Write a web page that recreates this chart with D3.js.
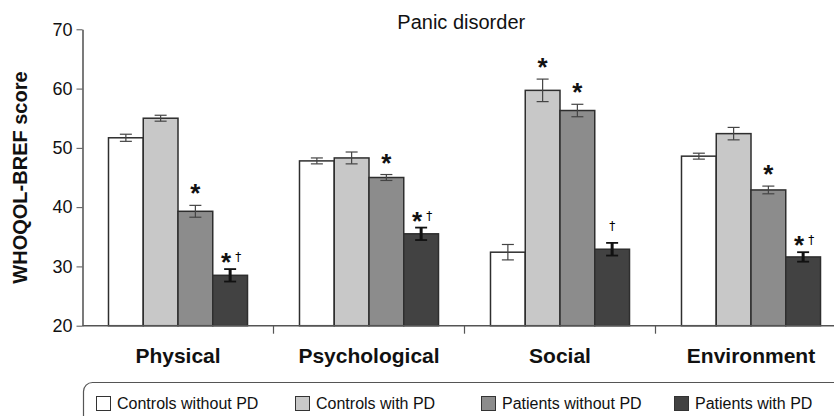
<!DOCTYPE html>
<html>
<head>
<meta charset="utf-8">
<script src="https://cdn.jsdelivr.net/npm/d3@7"></script>
<style>
  html, body { margin: 0; padding: 0; background: #fff; }
  svg { display: block; font-family: "Liberation Sans", Arial, Helvetica, sans-serif; }
</style>
</head>
<body>
<svg id="chart" width="834" height="416"></svg>
<script>
// ---- Data ----
const categories = ["Physical", "Psychological", "Social", "Environment"];
const series = ["Controls without PD", "Controls with PD", "Patients without PD", "Patients with PD"];
const seriesColors = ["#ffffff", "#c8c8c8", "#8c8c8c", "#424242"];
// means per series across categories
const controlsWithoutPD = [51.7, 47.8, 32.4, 48.6];
const controlsWithPD    = [55.0, 48.3, 59.7, 52.4];
const patientsWithoutPD = [39.3, 45.0, 56.3, 42.9];
const patientsWithPD    = [28.5, 35.5, 32.9, 31.6];
// standard errors
const errControlsWithoutPD = [0.6, 0.5, 1.3, 0.5];
const errControlsWithPD    = [0.5, 1.0, 1.9, 1.05];
const errPatientsWithoutPD = [1.0, 0.5, 1.05, 0.65];
const errPatientsWithPD    = [1.05, 1.05, 1.07, 0.8];
// significance annotations
const markControlsWithoutPD = ["", "", "", ""];
const markControlsWithPD    = ["", "", "*", ""];
const markPatientsWithoutPD = ["*", "*", "*", "*"];
const markPatientsWithPD    = ["*†", "*†", "†", "*†"];
const yTicks = [20, 30, 40, 50, 60, 70];
const title = "Panic disorder";
const yLabel = "WHOQOL-BREF score";

const values = [controlsWithoutPD, controlsWithPD, patientsWithoutPD, patientsWithPD];
const errors = [errControlsWithoutPD, errControlsWithPD, errPatientsWithoutPD, errPatientsWithPD];
const marks = [markControlsWithoutPD, markControlsWithPD, markPatientsWithoutPD, markPatientsWithPD];

const data = [];
categories.forEach((c, ci) => {
  series.forEach((s, si) => {
    data.push({cat: c, ser: s, si, v: values[si][ci], e: errors[si][ci], m: marks[si][ci]});
  });
});

// ---- Layout ----
const svg = d3.select("#chart");
const plotLeft = 82.5, plotRight = 834, plotTop = 29.3, plotBottom = 325.7;

const x0 = d3.scaleBand().domain(categories).range([plotLeft, plotLeft + 4 * 191]).paddingInner(0).paddingOuter(0);
const x1 = d3.scaleBand().domain(series).range([0, x0.bandwidth()]).paddingInner(0).paddingOuter(0.748);
const y = d3.scaleLinear().domain([20, 70]).range([plotBottom, plotTop]);

// Title
svg.append("text")
  .attr("x", (plotLeft + plotRight) / 2 + 3)
  .attr("y", 29)
  .attr("text-anchor", "middle")
  .attr("font-size", 20)
  .attr("fill", "#111")
  .text(title);

// Y axis
const yAxis = svg.append("g")
  .attr("transform", `translate(${plotLeft},0)`)
  .call(d3.axisLeft(y).tickValues(yTicks).tickSize(6).tickPadding(4).tickSizeOuter(0));
yAxis.select(".domain").attr("stroke", "#333").attr("stroke-width", 1.3);
yAxis.selectAll(".tick line").attr("stroke", "#555").attr("stroke-width", 1);
yAxis.selectAll(".tick text").attr("font-size", 18).attr("fill", "#111")
  .attr("font-family", "Liberation Sans, Arial, sans-serif");

// Y label
svg.append("text")
  .attr("transform", `translate(27,${(plotTop + plotBottom) / 2}) rotate(-90)`)
  .attr("text-anchor", "middle")
  .attr("font-size", 20)
  .attr("font-weight", "bold")
  .attr("fill", "#111")
  .text(yLabel);

// Bars
const groups = svg.append("g").selectAll("g")
  .data(data).join("g")
  .attr("transform", d => `translate(${x0(d.cat)},0)`);

groups.append("rect")
  .attr("x", d => x1(d.ser))
  .attr("y", d => y(d.v))
  .attr("width", x1.bandwidth())
  .attr("height", d => y(20) - y(d.v))
  .attr("fill", d => seriesColors[d.si])
  .attr("stroke", "#2e2e2e")
  .attr("stroke-width", 1.5);

// Error bars
const eb = groups.append("g")
  .attr("stroke", d => d.si === 3 ? "#111" : "#444");
eb.append("line")
  .attr("x1", d => x1(d.ser) + x1.bandwidth() / 2)
  .attr("x2", d => x1(d.ser) + x1.bandwidth() / 2)
  .attr("y1", d => y(d.v + d.e))
  .attr("y2", d => y(d.v - d.e))
  .attr("stroke-width", d => d.si === 3 ? 3 : 1.2);
[1, -1].forEach(sign => {
  eb.append("line")
    .attr("x1", d => x1(d.ser) + x1.bandwidth() / 2 - 6)
    .attr("x2", d => x1(d.ser) + x1.bandwidth() / 2 + 6)
    .attr("y1", d => y(d.v + sign * d.e))
    .attr("y2", d => y(d.v + sign * d.e))
    .attr("stroke-width", d => d.si === 3 ? 1.8 : 1.2);
});

// Annotations
const ann = groups.filter(d => d.m !== "");
ann.each(function(d) {
  const g = d3.select(this);
  const cx = x1(d.ser) + x1.bandwidth() / 2;
  const top = y(d.v + d.e);
  const hasStar = d.m.includes("*");
  const hasDag = d.m.includes("†");
  const cy = top - (hasStar && hasDag ? 12 : 17);
  if (hasStar) {
    g.append("text")
      .attr("x", hasDag ? cx - 4 : cx)
      .attr("y", cy + 14)
      .attr("text-anchor", "middle")
      .attr("font-size", 26)
      .attr("font-weight", "bold")
      .attr("fill", "#111")
      .text("*");
  }
  if (hasDag) {
    g.append("text")
      .attr("x", hasStar ? cx + 8 : cx)
      .attr("y", cy + 4)
      .attr("text-anchor", "middle")
      .attr("font-size", 12)
      .attr("font-family", "DejaVu Sans, sans-serif")
      .attr("fill", "#000")
      .text("†");
  }
});

// X axis line and separators
svg.append("line")
  .attr("x1", plotLeft).attr("x2", plotRight)
  .attr("y1", plotBottom).attr("y2", plotBottom)
  .attr("stroke", "#555").attr("stroke-width", 1.5);
svg.append("g").selectAll("line")
  .data(categories.slice(1)).join("line")
  .attr("x1", d => x0(d)).attr("x2", d => x0(d))
  .attr("y1", plotBottom).attr("y2", plotBottom + 8)
  .attr("stroke", "#555").attr("stroke-width", 1.2);

// Category labels
svg.append("g").selectAll("text")
  .data(categories).join("text")
  .attr("x", d => x0(d) + x0.bandwidth() / 2)
  .attr("y", 363)
  .attr("text-anchor", "middle")
  .attr("font-size", 21)
  .attr("font-weight", "bold")
  .attr("fill", "#111")
  .text(d => d);

// Legend
svg.append("rect")
  .attr("x", 83.5).attr("y", 382.5)
  .attr("width", 800).attr("height", 60)
  .attr("rx", 9)
  .attr("fill", "#fff").attr("stroke", "#555").attr("stroke-width", 1.2);
const legendX = [96, 295, 481, 674];
const leg = svg.append("g").selectAll("g")
  .data(series).join("g")
  .attr("transform", (d, i) => `translate(${legendX[i]},396)`);
leg.append("rect")
  .attr("x", 0.5).attr("y", 0.5).attr("width", 14).attr("height", 14)
  .attr("fill", (d, i) => seriesColors[i])
  .attr("stroke", "#333").attr("stroke-width", 1);
leg.append("text")
  .attr("x", 21).attr("y", 12.5)
  .attr("font-size", 16)
  .attr("fill", "#111")
  .text(d => d);
</script>
</body>
</html>
